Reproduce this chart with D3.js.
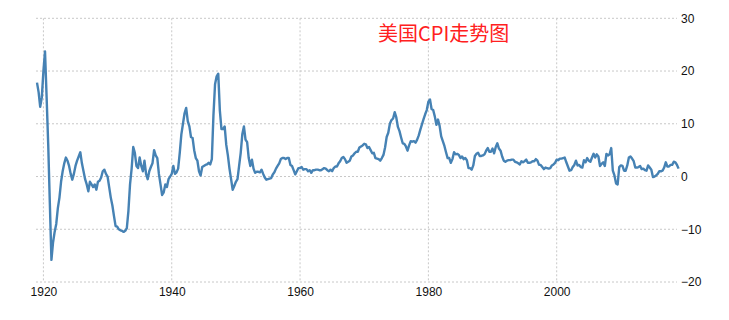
<!DOCTYPE html>
<html>
<head>
<meta charset="utf-8">
<script src="https://cdn.jsdelivr.net/npm/d3@7"></script>
<style>
  body { margin: 0; background: #fff; }
  svg { display: block; }
</style>
</head>
<body>
<div id="chart"></div>
<script>
// US CPI year-on-year, %, four readings per year, from 1919
const startYear = 1919
const cpiYoY = [
  17.8, 16.0, 13.2, 15.0,   // 1919
  20.0, 23.7, 15.0, 6.0,    // 1920
  -5.0, -15.8, -12.5, -10.5,
  -9.0, -6.0, -4.0, -1.0,
  1.0, 2.5, 3.6, 3.0,
  2.0, 0.5, -0.6, 0.5,
  2.0, 3.0, 3.8, 4.6,       // 1925
  2.5, 1.0, -0.5, -1.5,
  -2.8, -1.0, -1.5, -2.0,
  -1.5, -2.5, -1.0, -0.8,
  -0.2, 1.0, 1.3, 0.5,
  0.0, -2.0, -4.0, -5.5,    // 1930
  -7.5, -9.4, -9.5, -10.0,
  -10.2, -10.3, -10.5, -10.3,
  -9.8, -6.5, -1.5, 1.5,
  5.6, 4.5, 2.0, 1.6,
  3.6, 2.0, 1.0, 3.0,       // 1935
  0.5, -0.5, 1.0, 1.8,
  2.5, 5.0, 4.0, 3.5,
  0.5, -1.5, -3.5, -3.0,
  -1.5, -2.0, -0.5, 0.0,
  0.5, 2.0, 0.5, 0.8,       // 1940
  1.5, 4.5, 8.0, 10.0,
  12.0, 13.0, 10.5, 9.5,
  7.5, 7.3, 5.0, 3.5,
  3.0, 1.0, 0.2, 1.8,
  2.0, 2.2, 2.3, 2.6,       // 1945
  2.3, 3.3, 11.6, 17.5,
  19.0, 19.5, 12.5, 9.0,
  9.0, 9.5, 6.0, 4.0,
  1.5, -0.5, -2.5, -1.8,
  -1.0, -0.5, 2.0, 4.5,     // 1950
  8.0, 9.5, 7.0, 6.5,
  3.5, 2.0, 3.2, 1.5,
  0.7, 0.9, 0.9, 0.8,
  1.3, 0.5, -0.2, -0.6,
  -0.5, -0.4, -0.3, 0.4,    // 1955
  0.8, 1.5, 2.0, 2.5,
  3.3, 3.5, 3.5, 3.3,
  3.5, 3.5, 2.2, 2.0,
  1.2, 0.4, 1.0, 1.6,
  1.6, 1.8, 1.3, 1.4,       // 1960
  1.4, 1.0, 1.2, 0.7,
  1.2, 1.2, 1.3, 1.3,
  1.2, 1.2, 1.4, 1.6,
  1.5, 1.2, 1.0, 1.3,
  1.0, 1.6, 1.9, 1.9,       // 1965
  2.5, 2.9, 3.5, 3.7,
  3.3, 2.6, 2.8, 3.0,
  3.8, 4.0, 4.4, 4.7,
  4.7, 5.5, 5.7, 5.9,
  6.2, 6.1, 5.4, 5.6,       // 1970
  5.0, 4.4, 4.5, 3.5,
  3.4, 3.3, 3.0, 3.5,
  4.1, 5.5, 7.5, 8.3,
  10.0, 10.7, 11.0, 12.2,
  11.2, 9.4, 8.6, 7.4,      // 1975
  6.3, 6.2, 5.7, 4.9,
  5.9, 6.7, 6.6, 6.7,
  6.4, 7.0, 7.8, 8.9,
  9.9, 10.9, 11.8, 12.6,
  14.2, 14.6, 12.8, 12.6,   // 1980
  11.4, 9.8, 10.8, 9.6,
  7.6, 6.7, 5.8, 4.6,
  3.5, 3.5, 2.6, 3.3,
  4.6, 4.2, 4.3, 4.1,
  3.5, 3.8, 3.3, 3.5,       // 1985
  3.1, 1.6, 1.6, 1.3,
  2.1, 3.9, 4.3, 4.5,
  3.9, 3.9, 4.0, 4.2,
  4.9, 5.4, 4.7, 4.7,
  5.3, 4.4, 5.6, 6.3,       // 1990
  5.3, 4.9, 3.8, 3.0,
  2.8, 3.0, 3.1, 3.1,
  3.2, 3.2, 2.8, 2.7,
  2.5, 2.3, 2.9, 2.7,
  2.9, 3.2, 2.6, 2.6,       // 1995
  2.7, 2.9, 2.9, 3.3,
  3.0, 2.2, 2.2, 1.8,
  1.4, 1.7, 1.6, 1.5,
  1.6, 2.1, 2.3, 2.6,
  3.2, 3.1, 3.4, 3.4,       // 2000
  3.5, 3.6, 2.7, 1.9,
  1.1, 1.2, 1.8, 2.2,
  3.0, 2.1, 2.2, 1.8,
  1.7, 3.1, 2.7, 3.5,
  3.0, 2.8, 3.6, 4.3,       // 2005
  3.6, 4.2, 3.8, 2.0,
  2.4, 2.7, 2.0, 4.3,
  4.0, 4.2, 5.4, 1.1,
  0.2, -1.3, -1.5, 1.8,
  2.1, 2.0, 1.1, 1.1,       // 2010
  2.1, 3.6, 3.8, 3.4,
  2.9, 1.7, 1.7, 1.8,
  2.0, 1.4, 1.5, 1.2,
  1.1, 2.1, 1.7, 1.3,
  -0.1, 0.0, 0.2, 0.5,      // 2015
  1.0, 1.0, 1.1, 1.7,
  2.7, 1.9, 1.9, 2.2,
  2.2, 2.8, 2.7, 2.2,
  1.5                       // 2019
]
const yearTicks = [1920, 1940, 1960, 1980, 2000]
const valueTicks = [30, 20, 10, 0, -10, -20]
const title = '美国CPI走势图'

const width = 729, height = 320
const plotLeft = 36, plotRight = 677, plotTop = 18.3, plotBottom = 282

const svg = d3.select('#chart').append('svg')
  .attr('width', width)
  .attr('height', height)

const x = d3.scaleLinear().domain([1919, 2019]).range([37, 678.6])
const y = d3.scaleLinear().domain([-20, 30]).range([plotBottom, plotTop])

const data = cpiYoY.map((v, i) => ({t: startYear + i / 4, v}))

// grid
svg.append('g').selectAll('line').data(valueTicks).enter().append('line')
  .attr('x1', plotLeft).attr('x2', plotRight)
  .attr('y1', d => y(d)).attr('y2', d => y(d))
  .attr('stroke', '#c8c8c8').attr('stroke-dasharray', '2,2')

svg.append('g').selectAll('line').data(yearTicks).enter().append('line')
  .attr('x1', d => x(d)).attr('x2', d => x(d))
  .attr('y1', plotTop).attr('y2', plotBottom)
  .attr('stroke', '#c8c8c8').attr('stroke-dasharray', '2,2')

// axes, drawn without domain or tick lines
const yAxis = svg.append('g')
  .attr('transform', 'translate(' + (plotRight + 2) + ',0)')
  .call(d3.axisRight(y).tickValues(valueTicks).tickSize(0).tickPadding(2))
yAxis.select('.domain').remove()
yAxis.selectAll('text')
  .attr('font-family', 'Tahoma, "Liberation Sans", Arial, sans-serif')
  .attr('font-size', '12px').attr('fill', '#111')

const xAxis = svg.append('g')
  .attr('transform', 'translate(0,' + plotBottom + ')')
  .call(d3.axisBottom(x).tickValues(yearTicks).tickFormat(d3.format('d')).tickSize(0).tickPadding(5))
xAxis.select('.domain').remove()
xAxis.selectAll('text')
  .attr('font-family', 'Tahoma, "Liberation Sans", Arial, sans-serif')
  .attr('font-size', '12px').attr('fill', '#111')

// the line
const line = d3.line().x(d => x(d.t)).y(d => y(d.v))
svg.append('path').datum(data)
  .attr('d', line)
  .attr('fill', 'none')
  .attr('stroke', '#4682b4')
  .attr('stroke-width', 2.4)
  .attr('stroke-linejoin', 'round')

svg.append('text')
  .attr('x', 378).attr('y', 41)
  .attr('font-family', '"Noto Sans CJK SC", sans-serif')
  .attr('font-size', '20px')
  .attr('fill', '#ff2020')
  .text(title)
</script>
</body>
</html>
